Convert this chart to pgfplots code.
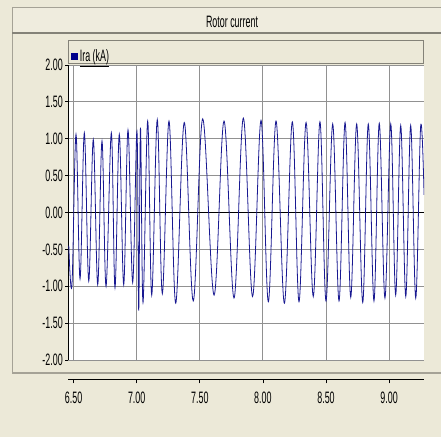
\documentclass[border=0pt]{standalone}
\usepackage{fontspec}
\setmainfont{Liberation Sans}[FakeStretch=0.54]
\usepackage{pgfplots}
\pgfplotsset{compat=1.18}
\definecolor{panelbg}{RGB}{236,233,216}
\definecolor{wave}{RGB}{25,25,145}
\definecolor{legsq}{RGB}{0,0,140}
\definecolor{gridc}{RGB}{145,145,145}
\definecolor{framec}{RGB}{165,162,150}
\newcommand{\lblfont}{\fontsize{16.5}{18}\selectfont}
\begin{document}
\begin{tikzpicture}[x=1pt,y=1pt]
\useasboundingbox (0,0) rectangle (441,437);
\fill[panelbg] (0,0) rectangle (441,437);
% title bar
\fill[panelbg!85!white] (12,404) rectangle (441,429);
\draw[framec, line width=1pt] (12,64) -- (12,429) -- (441,429);
\draw[framec!80!black, line width=1.5pt] (12,404) -- (441,404);
\node[font=\lblfont] at (232,415) {Rotor current};
\draw[framec, line width=2pt] (12,64) -- (441,64);
% legend box
\draw[framec!80!black, fill=panelbg, line width=0.8pt] (68,374) rectangle (423,397);
\begin{axis}[at={(68pt,77pt)}, anchor=south west, scale only axis,
  width=356pt, height=295pt,
  xmin=6.4556, xmax=9.2765, ymin=-2, ymax=2,
  axis lines*=left,
  x axis line style={draw=none},
  y axis line style={black, line width=0.8pt},
  axis background/.style={fill=white},
  xtick={6.5,7,7.5,8,8.5,9}, xticklabels={},
  xtick style={draw=none},
  ytick={-2,-1.5,-1,-0.5,0,0.5,1,1.5,2},
  tick align=outside, major tick length=3pt,
  ytick style={black, line width=0.8pt},
  grid=major, major grid style={gridc, line width=0.9pt},
  extra y ticks={0}, extra y tick labels={},
  extra y tick style={grid=major, major grid style={black, line width=1.2pt}},
  yticklabel style={font=\lblfont, inner sep=0pt, xshift=-2pt,
    /pgf/number format/fixed, /pgf/number format/fixed zerofill,
    /pgf/number format/precision=2, /pgf/number format/assume math mode=true},
  legend style={at={(0.008,1.029)}, anchor=west, draw=none, fill=none,
    inner sep=0pt, font=\lblfont},
  legend image code/.code={\fill[legsq] (0pt,-3pt) rectangle (6pt,3pt);},
]
\addplot[wave, line width=0.8pt, smooth, tension=0.6] coordinates {
(6.462,-0.45) (6.487,-0.98) (6.519,1.06) (6.551,-0.90) (6.585,1.08)
(6.620,-0.93) (6.656,0.99) (6.691,-0.98) (6.725,0.97) (6.757,-1.00)
(6.799,1.08) (6.828,-1.02) (6.862,1.06) (6.897,-0.98) (6.931,1.12)
(6.968,-0.95) (7.002,1.10) (7.016,-1.33) (7.030,1.15) (7.050,-1.22)
(7.087,1.24) (7.119,-1.12) (7.163,1.26) (7.203,-1.10) (7.256,1.24)
(7.309,-1.23) (7.377,1.22) (7.448,-1.20) (7.523,1.27) (7.613,-1.12)
(7.692,1.24) (7.771,-1.16) (7.845,1.28) (7.918,-1.14) (7.985,1.25)
(8.043,-1.21) (8.104,1.24) (8.170,-1.23) (8.233,1.23) (8.286,-1.21)
(8.342,1.22) (8.399,-1.14) (8.452,1.23) (8.500,-1.20) (8.553,1.20)
(8.603,-1.20) (8.651,1.22) (8.696,-1.15) (8.743,1.20) (8.791,-1.22)
(8.835,1.20) (8.880,-1.20) (8.922,1.21) (8.967,-1.16) (9.013,1.20)
(9.052,-1.12) (9.092,1.18) (9.132,-1.14) (9.171,1.18) (9.211,-1.16)
(9.250,1.17) (9.277,0.24)
};
\addlegendentry{\underline{Ira (kA)}}
\end{axis}
\begin{axis}[at={(68pt,57.7pt)}, anchor=south west, scale only axis,
  width=356pt, height=10pt,
  xmin=6.4556, xmax=9.2765, ymin=0, ymax=1,
  axis x line*=bottom, axis y line=none,
  x axis line style={black, line width=0.9pt},
  xtick={6.5,7,7.5,8,8.5,9},
  tick align=outside, major tick length=4pt,
  xtick style={black, line width=0.8pt},
  xticklabel style={font=\lblfont, inner sep=0pt, yshift=-8pt,
    /pgf/number format/fixed, /pgf/number format/fixed zerofill,
    /pgf/number format/precision=2, /pgf/number format/assume math mode=true},
]
\end{axis}
\end{tikzpicture}
\end{document}
